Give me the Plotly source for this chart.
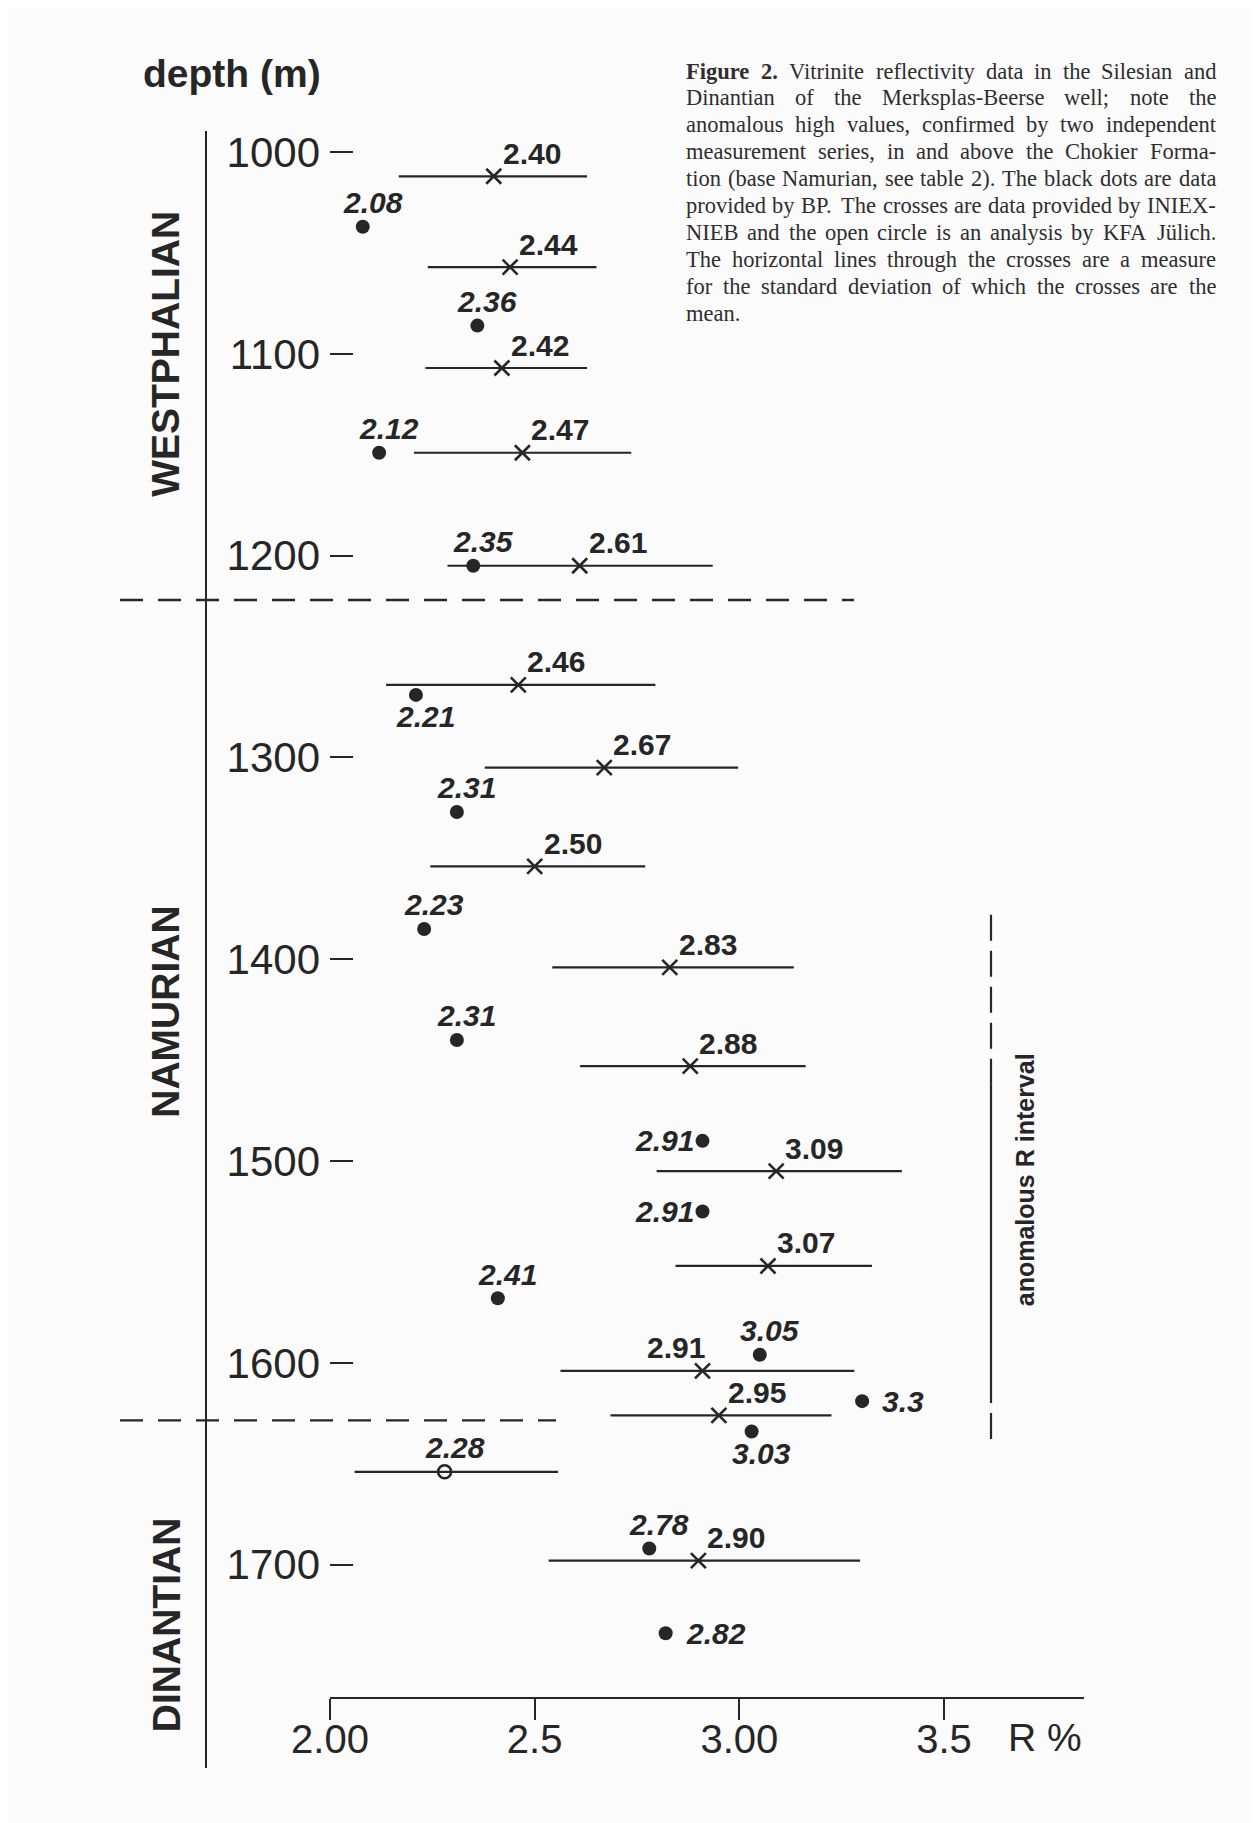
import plotly.graph_objects as go

# ---------------- data ----------------
# INIEX-NIEB measurements: crosses with standard-deviation bars
cross_depth = [1012, 1057, 1107, 1149, 1205, 1264, 1305, 1354, 1404, 1453, 1505, 1552, 1604, 1626, 1698]
cross_R = [2.40, 2.44, 2.42, 2.47, 2.61, 2.46, 2.67, 2.50, 2.83, 2.88, 3.09, 3.07, 2.91, 2.95, 2.90]
cross_low = [2.168, 2.239, 2.233, 2.205, 2.287, 2.137, 2.378, 2.245, 2.543, 2.611, 2.798, 2.844, 2.563, 2.685, 2.534]
cross_high = [2.628, 2.651, 2.628, 2.736, 2.935, 2.795, 2.997, 2.770, 3.133, 3.162, 3.397, 3.324, 3.281, 3.225, 3.295]
cross_text = ["2.40", "2.44", "2.42", "2.47", "2.61", "2.46", "2.67", "2.50", "2.83", "2.88", "3.09", "3.07", "2.91", "2.95", "2.90"]

# BP measurements: black dots
dot_depth = [1037, 1086, 1149, 1205, 1269, 1327, 1385, 1440, 1490, 1525, 1568, 1596, 1619, 1634, 1692, 1734]
dot_R = [2.08, 2.36, 2.12, 2.35, 2.21, 2.31, 2.23, 2.31, 2.91, 2.91, 2.41, 3.05, 3.30, 3.03, 2.78, 2.82]
dot_text = ["2.08", "2.36", "2.12", "2.35", "2.21", "2.31", "2.23", "2.31", "2.91", "2.91", "2.41", "3.05", "3.3", "3.03", "2.78", "2.82"]

# KFA Jülich measurement: open circle
open_depth = [1654]
open_R = [2.28]
open_low = [2.060]
open_high = [2.557]
open_text = ["2.28"]

depth_ticks = [1000, 1100, 1200, 1300, 1400, 1500, 1600, 1700]
r_ticks = [2.0, 2.5, 3.0, 3.5]
r_tick_labels = ["2.00", "2.5", "3.00", "3.5"]

units = ["Westphalian", "Namurian", "Dinantian"]
unit_labels = ["WESTPHALIAN", "NAMURIAN", "DINANTIAN"]
unit_centre_depth = [1100, 1426, 1730]
unit_boundaries = [1222, 1628.5]
anomalous_interval = [1378, 1639]

caption_lines = [
    "Figure 2. Vitrinite reflectivity data in the Silesian and",
    "Dinantian of the Merksplas-Beerse well; note the",
    "anomalous high values, confirmed by two independent",
    "measurement series, in and above the Chokier Forma-",
    "tion (base Namurian, see table 2). The black dots are data",
    "provided by BP. The crosses are data provided by INIEX-",
    "NIEB and the open circle is an analysis by KFA Jülich.",
    "The horizontal lines through the crosses are a measure",
    "for the standard deviation of which the crosses are the",
    "mean.",
]

# ---------------- layout / style ----------------
OFF = 8                      # default page margin around the figure div
W, H = 1259 - OFF, 1823 - OFF
PLOT_L, PLOT_R, PLOT_T, PLOT_B = 330, 1084, OFF, 1697   # page pixel coordinates
ML = PLOT_L - OFF
MR = W - (PLOT_R - OFF)
MT = PLOT_T - OFF
MB = H - (PLOT_B - OFF)
PW, PH = PLOT_R - PLOT_L, PLOT_B - PLOT_T
INK = "#262626"
BG = "#fcfbfc"
SANS = "Liberation Sans, Arial, Helvetica, sans-serif"
SERIF = "Liberation Serif, Times New Roman, serif"

x_range = [2.0, 3.842]
y_range = [1765.6, 928.6]


def px_x(px):
    return (px - PLOT_L) / PW


def px_y(py):
    return (PLOT_B - py) / PH


cross_label_side = ["right"] * 15
cross_label_side[12] = "left"
dot_label_side = ["above", "above", "above", "above", "below", "above", "above", "above",
                  "left", "left", "above", "above", "right", "below", "above", "right"]

fig = go.Figure()

# crosses with SD bars
fig.add_trace(go.Scatter(
    x=cross_R, y=cross_depth, mode="markers", cliponaxis=False,
    marker=dict(symbol="x-thin", size=15, line=dict(width=2.6, color=INK), color=INK),
    error_x=dict(type="data", symmetric=False,
                 array=[h - r for h, r in zip(cross_high, cross_R)],
                 arrayminus=[r - l for r, l in zip(cross_R, cross_low)],
                 thickness=2.2, width=0, color=INK),
    showlegend=False, hoverinfo="skip"))

# open circle with bar
fig.add_trace(go.Scatter(
    x=open_R, y=open_depth, mode="markers", cliponaxis=False,
    marker=dict(symbol="circle-open", size=13, line=dict(width=2.6, color=INK), color=INK),
    error_x=dict(type="data", symmetric=False,
                 array=[h - r for h, r in zip(open_high, open_R)],
                 arrayminus=[r - l for r, l in zip(open_R, open_low)],
                 thickness=2.2, width=0, color=INK),
    showlegend=False, hoverinfo="skip"))

# black dots
fig.add_trace(go.Scatter(
    x=dot_R, y=dot_depth, mode="markers", cliponaxis=False,
    marker=dict(symbol="circle", size=14, color=INK),
    showlegend=False, hoverinfo="skip"))

ann = []
LBL = 30
for r, d, t, side in zip(cross_R, cross_depth, cross_text, cross_label_side):
    if side == "right":
        ann.append(dict(x=r, y=d, xref="x", yref="y", text=t, showarrow=False,
                        xanchor="left", yanchor="middle", xshift=7, yshift=23,
                        font=dict(family=SANS, size=LBL, color=INK, weight="bold")))
    else:
        ann.append(dict(x=r, y=d, xref="x", yref="y", text=t, showarrow=False,
                        xanchor="right", yanchor="middle", xshift=4, yshift=23,
                        font=dict(family=SANS, size=LBL, color=INK, weight="bold")))

for r, d, t, side in zip(dot_R + open_R, dot_depth + open_depth, dot_text + open_text,
                         dot_label_side + ["above"]):
    f = dict(family=SANS, size=LBL, color=INK, weight="bold", style="italic")
    if side == "above":
        a = dict(xanchor="center", yanchor="middle", xshift=10, yshift=24)
    elif side == "below":
        a = dict(xanchor="center", yanchor="middle", xshift=10, yshift=-22)
    elif side == "left":
        a = dict(xanchor="right", yanchor="middle", xshift=-7, yshift=0)
    else:
        a = dict(xanchor="left", yanchor="middle", xshift=18, yshift=0)
    ann.append(dict(x=r, y=d, xref="x", yref="y", text=t, showarrow=False, font=f, **a))

# axis titles
ann.append(dict(x=px_x(141), y=px_y(73), xref="paper", yref="paper", text="depth (m)",
                showarrow=False, xanchor="left", yanchor="middle",
                font=dict(family=SANS, size=39, color=INK, weight="bold")))
ann.append(dict(x=1.0, y=px_y(1737), xref="paper", yref="paper", text="R %",
                showarrow=False, xanchor="right", yanchor="middle",
                font=dict(family=SANS, size=39, color=INK)))

# stratigraphic units
for lab, d in zip(unit_labels, unit_centre_depth):
    ann.append(dict(x=px_x(166), y=d, xref="paper", yref="y", text=lab, textangle=-90,
                    showarrow=False, xanchor="center", yanchor="middle",
                    font=dict(family=SANS, size=39, color=INK, weight="bold")))

ann.append(dict(x=px_x(1025), y=sum(anomalous_interval) / 2 + 1, xref="paper", yref="y",
                text="anomalous R interval", textangle=-90, showarrow=False,
                xanchor="center", yanchor="middle",
                font=dict(family=SANS, size=25, color=INK, weight="bold")))

# caption, justified word by word
TIMES = {
    ' ': 250, '.': 250, ',': 250, ';': 278, ':': 278, '-': 333, '(': 333, ')': 333,
    'a': 444, 'b': 500, 'c': 444, 'd': 500, 'e': 444, 'f': 333, 'g': 500, 'h': 500, 'i': 278,
    'j': 278, 'k': 500, 'l': 278, 'm': 778, 'n': 500, 'o': 500, 'p': 500, 'q': 500, 'r': 333,
    's': 389, 't': 278, 'u': 500, 'v': 500, 'w': 722, 'x': 500, 'y': 500, 'z': 444, 'ü': 500,
    'A': 722, 'B': 667, 'C': 667, 'D': 722, 'E': 611, 'F': 556, 'G': 722, 'H': 722, 'I': 333,
    'J': 389, 'K': 722, 'L': 611, 'M': 889, 'N': 722, 'O': 722, 'P': 556, 'Q': 722, 'R': 667,
    'S': 556, 'T': 611, 'U': 722, 'V': 722, 'W': 944, 'X': 722, 'Y': 722, 'Z': 611,
}
TIMES_B = {'F': 611, 'i': 278, 'g': 500, 'u': 556, 'r': 444, 'e': 444, '.': 250}
CAP_FS = 22.5
CAP_X0, CAP_X1 = 686, 1216
CAP_Y0, CAP_DY = 71, 26.9


def text_w(s, bold=False):
    tot = 0
    for ch in s:
        if bold and ch in TIMES_B:
            tot += TIMES_B[ch]
        else:
            tot += TIMES.get(ch, 500)
    return tot / 1000 * CAP_FS


for i, line in enumerate(caption_lines):
    words = line.split(" ")
    bolds = [(i == 0 and j < 2) for j in range(len(words))]
    widths = [text_w(w, b) for w, b in zip(words, bolds)]
    if i == len(caption_lines) - 1 or len(words) == 1:
        gap = text_w(" ")
    else:
        gap = (CAP_X1 - CAP_X0 - sum(widths)) / (len(words) - 1)
    xp = CAP_X0
    for w, b, wd in zip(words, bolds, widths):
        ann.append(dict(x=px_x(xp - 2), y=px_y(CAP_Y0 + i * CAP_DY), xref="paper", yref="paper",
                        text=w, showarrow=False, xanchor="left", yanchor="middle",
                        font=dict(family=SERIF, size=CAP_FS, color="#2e2e2e",
                                  weight="bold" if b else "normal")))
        xp += wd + gap

shapes = []
# depth axis line (left vertical)
shapes.append(dict(type="line", xref="paper", yref="paper",
                   x0=px_x(206), x1=px_x(206), y0=px_y(131), y1=px_y(1768),
                   line=dict(color=INK, width=2)))
# unit boundaries (dashed)
for d, xend in zip(unit_boundaries, [854, 556]):
    shapes.append(dict(type="line", xref="paper", yref="y", x0=px_x(120), x1=px_x(xend),
                       y0=d, y1=d, line=dict(color=INK, width=2.4, dash="23px,15px")))
# anomalous interval marker
a0, a1 = anomalous_interval
mid0, mid1 = 1462, 1607
xa = px_x(991)
shapes.append(dict(type="line", xref="paper", yref="y", x0=xa, x1=xa, y0=a0, y1=mid0,
                   line=dict(color=INK, width=2.2, dash="26px,10px")))
shapes.append(dict(type="line", xref="paper", yref="y", x0=xa, x1=xa, y0=mid0, y1=mid1,
                   line=dict(color=INK, width=2.2)))
shapes.append(dict(type="line", xref="paper", yref="y", x0=xa, x1=xa, y0=mid1, y1=a1,
                   line=dict(color=INK, width=2.2, dash="26px,10px")))

fig.update_layout(
    width=W, height=H, autosize=False,
    margin=dict(l=ML, r=MR, t=MT, b=MB, pad=0),
    paper_bgcolor=BG, plot_bgcolor=BG,
    annotations=ann, shapes=shapes, showlegend=False,
    xaxis=dict(range=x_range, tickvals=r_ticks, ticktext=r_tick_labels,
               ticks="outside", ticklen=21, tickwidth=2, tickcolor=INK,
               ticklabelstandoff=-15,
               showline=True, linewidth=2, linecolor=INK, showgrid=False, zeroline=False,
               tickfont=dict(family=SANS, size=40, color=INK), fixedrange=True),
    yaxis=dict(range=y_range, tickvals=depth_ticks, ticktext=[str(v) for v in depth_ticks],
               ticks="inside", ticklen=23, tickwidth=2.4, tickcolor=INK,
               ticklabelstandoff=9,
               showline=False, showgrid=False, zeroline=False,
               tickfont=dict(family=SANS, size=42, color=INK), fixedrange=True),
)

fig.write_html("out.html")
